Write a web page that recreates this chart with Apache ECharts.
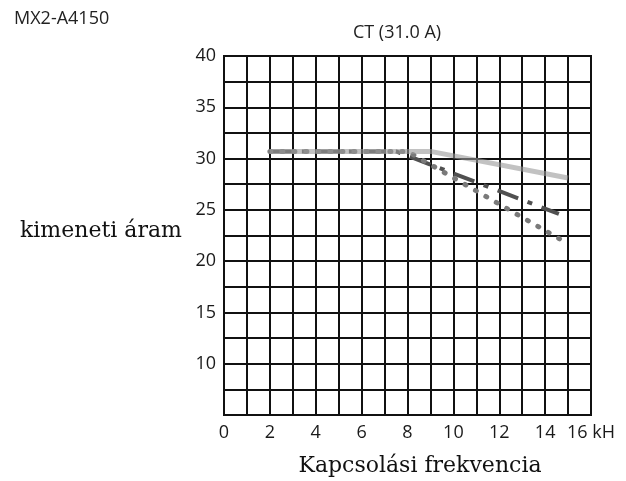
<!DOCTYPE html>
<html>
<head>
<meta charset="utf-8">
<script src="https://cdn.jsdelivr.net/npm/echarts@6/dist/echarts.min.js"></script>
<style>
  html, body { margin: 0; padding: 0; background: #fff; }
  #chart { width: 626px; height: 481px; }
</style>
</head>
<body>
<div id="chart"></div>
<script>
// görbék pontjai (kHz, A)
const solidX = [2, 9, 15];
const solidY = [30.7, 30.7, 28.1];
const dashX = [2, 7.5, 14.6];
const dashY = [30.7, 30.7, 24.6];
const dotX = [2, 8, 15];
const dotY = [30.7, 30.7, 21.7];

const xTicks = [0, 2, 4, 6, 8, 10, 12, 14, 16];
const yTicks = [10, 15, 20, 25, 30, 35, 40];

function pairs(xs, ys) {
    return xs.map((x, i) => [x, ys[i]]);
}

const myChart = echarts.init(document.getElementById('chart'));
const sans = 'Open Sans';

myChart.setOption({
    animation: false,
    grid: {
        left: 224, top: 56, width: 367, height: 359,
        show: true, borderColor: '#111', borderWidth: 2
    },
    xAxis: {
        type: 'value', min: 0, max: 16, interval: 1,
        axisLine: { lineStyle: { color: '#111', width: 2 } },
        axisTick: { show: false },
        splitLine: { show: true, lineStyle: { color: '#111', width: 2 } },
        axisLabel: {
            margin: 9, color: '#1a1a1a', fontSize: 18, fontFamily: sans,
            formatter: v => xTicks.indexOf(v) < 0 ? '' : (v === 16 ? v + ' kH' : String(v))
        }
    },
    yAxis: {
        type: 'value', min: 5, max: 40, interval: 2.5,
        axisLine: { lineStyle: { color: '#111', width: 2 } },
        axisTick: { show: false },
        splitLine: { show: true, lineStyle: { color: '#111', width: 2 } },
        axisLabel: {
            margin: 8, color: '#1a1a1a', fontSize: 18, fontFamily: sans,
            formatter: v => yTicks.indexOf(v) < 0 ? '' : String(v)
        }
    },
    graphic: [
        { type: 'text', x: 14, y: 19, style: { text: 'MX2-A4150', font: '18px "Open Sans"', fill: '#222', verticalAlign: 'middle' } },
        { type: 'text', x: 397, y: 33, style: { text: 'CT (31.0 A)', font: '18px "Open Sans"', fill: '#222', align: 'center', verticalAlign: 'middle' } },
        { type: 'text', x: 20, y: 231, style: { text: 'kimeneti áram', font: '22px "DejaVu Serif"', fill: '#111', verticalAlign: 'middle' } },
        { type: 'text', x: 420, y: 466, style: { text: 'Kapcsolási frekvencia', font: '22px "DejaVu Serif"', fill: '#111', align: 'center', verticalAlign: 'middle' } }
    ],
    series: [
        {
            type: 'line', data: pairs(dashX, dashY), symbol: 'none',
            lineStyle: { color: '#505050', width: 4, type: [22, 10, 5, 10] }
        },
        {
            type: 'line', data: pairs(dotX, dotY), symbol: 'none',
            lineStyle: { color: '#7a7a7a', width: 5, type: [1, 11], cap: 'round' }
        },
        {
            type: 'line', data: pairs(solidX, solidY), symbol: 'none',
            lineStyle: { color: '#9a9a9a', width: 5, opacity: 0.6 }
        }
    ]
});
</script>
</body>
</html>
